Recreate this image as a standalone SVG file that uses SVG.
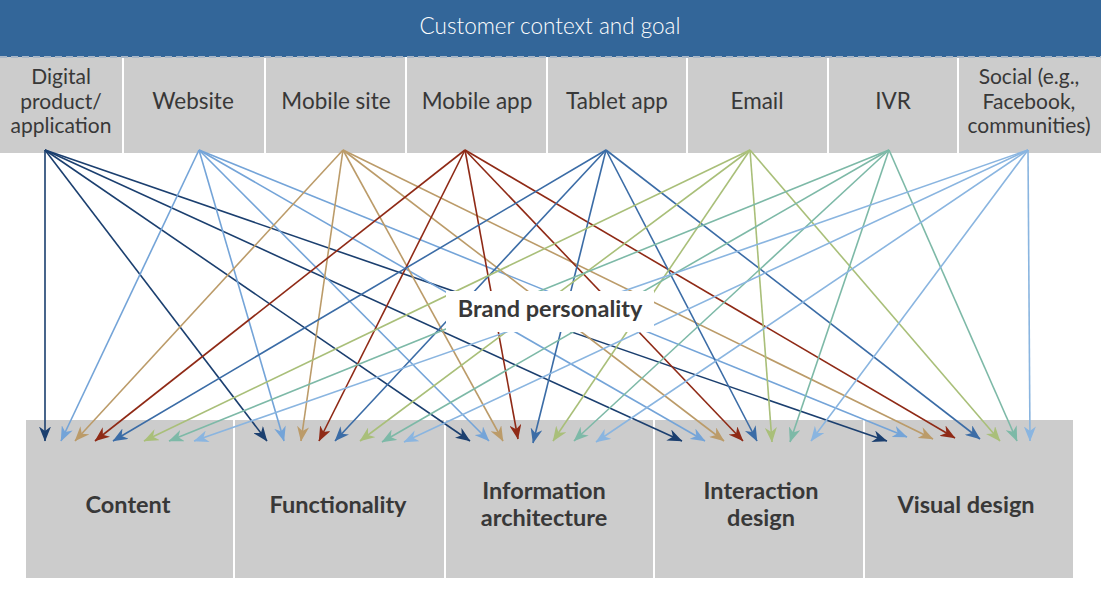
<svg xmlns="http://www.w3.org/2000/svg" width="1101" height="595" viewBox="0 0 1101 595">
<style>
.box{fill:#cccccc}
.lbl{font-family:Lato,"Open Sans","Liberation Sans",sans-serif;font-size:22.5px;fill:#383838;text-anchor:middle}
.ml{font-size:21px}
.blbl{font-family:Lato,"Open Sans","Liberation Sans",sans-serif;font-size:23.5px;font-weight:bold;fill:#383838;text-anchor:middle}
.c{fill:none;stroke-width:1.6}
.navy{stroke:#1b3f6f}.lb{stroke:#74a4d8}.tan{stroke:#bb9b69}.red{stroke:#8f2a16}
.blue{stroke:#3b6ca6}.olive{stroke:#a9bf79}.teal{stroke:#7db9a7}.lb2{stroke:#8ab5e0}
</style>
<defs>
<marker id="m-navy" viewBox="0 0 15 12" refX="14.5" refY="6" markerWidth="15" markerHeight="12" markerUnits="userSpaceOnUse" orient="auto"><path d="M0,0 L15,6 L0,12 L4.5,6 z" fill="#1b3f6f"/></marker>
<marker id="m-lb" viewBox="0 0 15 12" refX="14.5" refY="6" markerWidth="15" markerHeight="12" markerUnits="userSpaceOnUse" orient="auto"><path d="M0,0 L15,6 L0,12 L4.5,6 z" fill="#74a4d8"/></marker>
<marker id="m-tan" viewBox="0 0 15 12" refX="14.5" refY="6" markerWidth="15" markerHeight="12" markerUnits="userSpaceOnUse" orient="auto"><path d="M0,0 L15,6 L0,12 L4.5,6 z" fill="#bb9b69"/></marker>
<marker id="m-red" viewBox="0 0 15 12" refX="14.5" refY="6" markerWidth="15" markerHeight="12" markerUnits="userSpaceOnUse" orient="auto"><path d="M0,0 L15,6 L0,12 L4.5,6 z" fill="#8f2a16"/></marker>
<marker id="m-blue" viewBox="0 0 15 12" refX="14.5" refY="6" markerWidth="15" markerHeight="12" markerUnits="userSpaceOnUse" orient="auto"><path d="M0,0 L15,6 L0,12 L4.5,6 z" fill="#3b6ca6"/></marker>
<marker id="m-olive" viewBox="0 0 15 12" refX="14.5" refY="6" markerWidth="15" markerHeight="12" markerUnits="userSpaceOnUse" orient="auto"><path d="M0,0 L15,6 L0,12 L4.5,6 z" fill="#a9bf79"/></marker>
<marker id="m-teal" viewBox="0 0 15 12" refX="14.5" refY="6" markerWidth="15" markerHeight="12" markerUnits="userSpaceOnUse" orient="auto"><path d="M0,0 L15,6 L0,12 L4.5,6 z" fill="#7db9a7"/></marker>
<marker id="m-lb2" viewBox="0 0 15 12" refX="14.5" refY="6" markerWidth="15" markerHeight="12" markerUnits="userSpaceOnUse" orient="auto"><path d="M0,0 L15,6 L0,12 L4.5,6 z" fill="#8ab5e0"/></marker>
</defs>
<rect width="1101" height="595" fill="#ffffff"/>

<g id="header">
<rect x="0" y="0" width="1101" height="57" fill="#336699"/>
<text x="550" y="34" style="font-family:Lato,'Open Sans','Liberation Sans',sans-serif;font-size:22.5px;font-weight:300;fill:#ffffff;text-anchor:middle">Customer context and goal</text>
</g>

<g id="channels">
<g id="ch-digital"><rect class="box" x="0" y="57" width="122" height="96"/>
<text class="lbl ml" x="61" y="84">Digital</text><text class="lbl ml" x="61" y="108.5">product/</text><text class="lbl ml" x="61" y="133">application</text></g>
<g id="ch-website"><rect class="box" x="124" y="57" width="140" height="96"/><text class="lbl" x="193" y="109">Website</text></g>
<g id="ch-mobilesite"><rect class="box" x="266" y="57" width="139" height="96"/><text class="lbl" x="336" y="109">Mobile site</text></g>
<g id="ch-mobileapp"><rect class="box" x="407" y="57" width="139" height="96"/><text class="lbl" x="477" y="109">Mobile app</text></g>
<g id="ch-tablet"><rect class="box" x="548" y="57" width="138" height="96"/><text class="lbl" x="617" y="109">Tablet app</text></g>
<g id="ch-email"><rect class="box" x="688" y="57" width="139" height="96"/><text class="lbl" x="757" y="109">Email</text></g>
<g id="ch-ivr"><rect class="box" x="829" y="57" width="128" height="96"/><text class="lbl" x="893" y="109">IVR</text></g>
<g id="ch-social"><rect class="box" x="959" y="57" width="142" height="96"/>
<text class="lbl ml" x="1029" y="84">Social (e.g.,</text><text class="lbl ml" x="1029" y="108.5">Facebook,</text><text class="lbl ml" x="1029" y="133">communities)</text></g>
<line x1="0" y1="57" x2="1101" y2="57" stroke="#a9b6c6" stroke-width="2" stroke-dasharray="7 4"/>
</g>

<g id="targets">
<g id="t-content"><rect class="box" x="26" y="420" width="207" height="158"/><text class="blbl" x="128" y="513">Content</text></g>
<g id="t-functionality"><rect class="box" x="235" y="420" width="209" height="158"/><text class="blbl" x="338" y="513">Functionality</text></g>
<g id="t-ia"><rect class="box" x="446" y="420" width="207" height="158"/><text class="blbl" x="544" y="499">Information</text><text class="blbl" x="544" y="526">architecture</text></g>
<g id="t-interaction"><rect class="box" x="655" y="420" width="208" height="158"/><text class="blbl" x="761" y="499">Interaction</text><text class="blbl" x="761" y="526">design</text></g>
<g id="t-visual"><rect class="box" x="865" y="420" width="208" height="158"/><text class="blbl" x="966" y="513">Visual design</text></g>
</g>

<g id="connectors">
<g class="c navy" marker-end="url(#m-navy)">
<line x1="45" y1="150" x2="45" y2="441"/><line x1="45" y1="150" x2="267" y2="441"/><line x1="45" y1="150" x2="470" y2="441"/><line x1="45" y1="150" x2="682" y2="441"/><line x1="45" y1="150" x2="887" y2="441"/>
</g>
<g class="c lb" marker-end="url(#m-lb)">
<line x1="199" y1="150" x2="61" y2="441"/><line x1="199" y1="150" x2="284" y2="441"/><line x1="199" y1="150" x2="489" y2="441"/><line x1="199" y1="150" x2="705" y2="441"/><line x1="199" y1="150" x2="907" y2="437"/>
</g>
<g class="c tan" marker-end="url(#m-tan)">
<line x1="343" y1="150" x2="75" y2="441"/><line x1="343" y1="150" x2="301" y2="441"/><line x1="343" y1="150" x2="503" y2="441"/><line x1="343" y1="150" x2="724" y2="441"/><line x1="343" y1="150" x2="933" y2="439"/>
</g>
<g class="c red" marker-end="url(#m-red)">
<line x1="465" y1="150" x2="95" y2="441"/><line x1="465" y1="150" x2="319" y2="441"/><line x1="465" y1="150" x2="518" y2="439"/><line x1="465" y1="150" x2="743" y2="441"/><line x1="465" y1="150" x2="955" y2="438"/>
</g>
<g class="c blue" marker-end="url(#m-blue)">
<line x1="606" y1="150" x2="113" y2="441"/><line x1="606" y1="150" x2="335" y2="441"/><line x1="606" y1="150" x2="533" y2="443"/><line x1="606" y1="150" x2="757" y2="441"/><line x1="606" y1="150" x2="980" y2="439"/>
</g>
<g class="c olive" marker-end="url(#m-olive)">
<line x1="750" y1="150" x2="144" y2="441"/><line x1="750" y1="150" x2="360" y2="441"/><line x1="750" y1="150" x2="553" y2="441"/><line x1="750" y1="150" x2="772" y2="442"/><line x1="750" y1="150" x2="1000" y2="441"/>
</g>
<g class="c teal" marker-end="url(#m-teal)">
<line x1="889" y1="150" x2="169" y2="441"/><line x1="889" y1="150" x2="382" y2="442"/><line x1="889" y1="150" x2="574" y2="441"/><line x1="889" y1="150" x2="790" y2="442"/><line x1="889" y1="150" x2="1017" y2="441"/>
</g>
<g class="c lb2" marker-end="url(#m-lb2)">
<line x1="1028" y1="150" x2="194" y2="441"/><line x1="1028" y1="150" x2="404" y2="442"/><line x1="1028" y1="150" x2="596" y2="442"/><line x1="1028" y1="150" x2="811" y2="441"/><line x1="1028" y1="150" x2="1030" y2="441"/>
</g>
</g>

<g id="brand-personality">
<rect x="446" y="291" width="208" height="41" fill="#ffffff"/>
<text class="blbl" x="550" y="317">Brand personality</text>
</g>
</svg>
